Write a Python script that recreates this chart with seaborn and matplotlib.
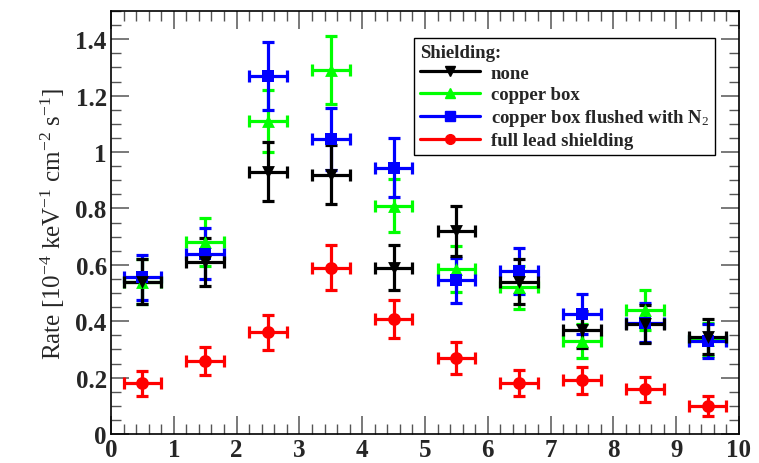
import numpy as np
import pandas as pd
import seaborn as sns
import matplotlib
matplotlib.use("Agg")
import matplotlib.pyplot as plt
from matplotlib.lines import Line2D
from matplotlib.ticker import MultipleLocator, FuncFormatter

# Bin centres (x) and half-width of each bin
bin_centres = [0.5, 1.5, 2.5, 3.5, 4.5, 5.5, 6.5, 7.5, 8.5, 9.5]
bin_half_width = 0.3

series_names = ["none", "copper box", "copper box flushed with N$_2$", "full lead shielding"]

rate_none = [0.54, 0.61, 0.93, 0.92, 0.59, 0.72, 0.54, 0.37, 0.39, 0.345]
err_none = [0.08, 0.085, 0.105, 0.105, 0.08, 0.09, 0.08, 0.065, 0.068, 0.062]

rate_copper = [0.54, 0.68, 1.11, 1.29, 0.81, 0.585, 0.52, 0.33, 0.44, 0.335]
err_copper = [0.08, 0.085, 0.11, 0.12, 0.095, 0.08, 0.077, 0.06, 0.07, 0.06]

rate_flushed = [0.555, 0.64, 1.27, 1.045, 0.945, 0.545, 0.578, 0.425, 0.395, 0.33]
err_flushed = [0.08, 0.09, 0.12, 0.11, 0.105, 0.08, 0.083, 0.07, 0.068, 0.06]

rate_lead = [0.18, 0.26, 0.36, 0.59, 0.408, 0.27, 0.18, 0.19, 0.158, 0.10]
err_lead = [0.045, 0.05, 0.063, 0.08, 0.068, 0.056, 0.046, 0.048, 0.043, 0.036]

rows = []
for name, vals, errs in [(series_names[0], rate_none, err_none),
                         (series_names[1], rate_copper, err_copper),
                         (series_names[2], rate_flushed, err_flushed),
                         (series_names[3], rate_lead, err_lead)]:
    for x, v, e in zip(bin_centres, vals, errs):
        rows.append({"energy": x, "rate": v, "err": e, "shielding": name})
df = pd.DataFrame(rows)

colors = {series_names[0]: "#000000", series_names[1]: "#00ff00",
          series_names[2]: "#0000ff", series_names[3]: "#ff0000"}
markers = {series_names[0]: "v", series_names[1]: "^",
           series_names[2]: "s", series_names[3]: "o"}

sns.set_style("ticks")
plt.rcParams["font.family"] = ["Liberation Serif", "DejaVu Serif"]
plt.rcParams["mathtext.fontset"] = "custom"
plt.rcParams["mathtext.rm"] = "Liberation Serif"
plt.rcParams["mathtext.it"] = "Liberation Serif:italic"
plt.rcParams["mathtext.bf"] = "Liberation Serif:bold"

fig = plt.figure(figsize=(7.59, 4.64), dpi=100)
ax = fig.add_axes([111 / 759, 1 - 435 / 464, (739 - 111) / 759, (435 - 12) / 464])

draw_order = [series_names[3], series_names[1], series_names[2], series_names[0]]
for name in draw_order:
    sub = df[df["shielding"] == name]
    ax.errorbar(sub["energy"], sub["rate"], yerr=sub["err"], xerr=bin_half_width,
                fmt="none", ecolor=colors[name], elinewidth=2.3, capsize=4.5,
                capthick=2.3, zorder=2)
    sns.scatterplot(data=sub, x="energy", y="rate", color=colors[name],
                    marker=markers[name], s=85, edgecolor=colors[name],
                    linewidth=0, ax=ax, legend=False, zorder=3)

ax.set_xlim(0, 10)
ax.set_ylim(0, 1.5)
ax.xaxis.set_major_locator(MultipleLocator(1))
ax.xaxis.set_minor_locator(MultipleLocator(0.2))
ax.yaxis.set_major_locator(MultipleLocator(0.2))
ax.yaxis.set_minor_locator(MultipleLocator(0.05))
fmt = FuncFormatter(lambda v, p: "%g" % round(v, 2))
ax.xaxis.set_major_formatter(fmt)
ax.yaxis.set_major_formatter(fmt)
ax.tick_params(which="both", direction="in", top=True, right=True, color="#555555")
ax.tick_params(which="major", length=13, width=1.1, labelsize=18, pad=3)
ax.tick_params(which="minor", length=7, width=1.0)
for lab in ax.get_xticklabels() + ax.get_yticklabels():
    lab.set_fontweight("bold")
for sp in ax.spines.values():
    sp.set_linewidth(1.2)
    sp.set_color("black")

ax.set_xlabel("")
ax.set_ylabel("Rate [10$^{-4}$ keV$^{-1}$ cm$^{-2}$ s$^{-1}$]", fontsize=18, labelpad=6)

handles = [Line2D([0], [0], color=colors[n], marker=markers[n], markersize=7,
                  linewidth=2.3) for n in series_names]
leg = ax.legend(handles, series_names, title="Shielding:", loc="upper left",
                bbox_to_anchor=((414 - 111) / 628, 1 - (39 - 12) / 423),
                frameon=True, fancybox=False, framealpha=1, edgecolor="black",
                prop={"weight": "bold", "size": 13.5}, handlelength=3.2,
                handletextpad=0.6, labelspacing=0.22, borderpad=0.3,
                borderaxespad=0)
leg.get_title().set_fontweight("bold")
leg.get_title().set_fontsize(13.5)
leg._legend_box.align = "left"
leg.get_frame().set_linewidth(1.0)

fig.savefig("out.png", dpi=100)
